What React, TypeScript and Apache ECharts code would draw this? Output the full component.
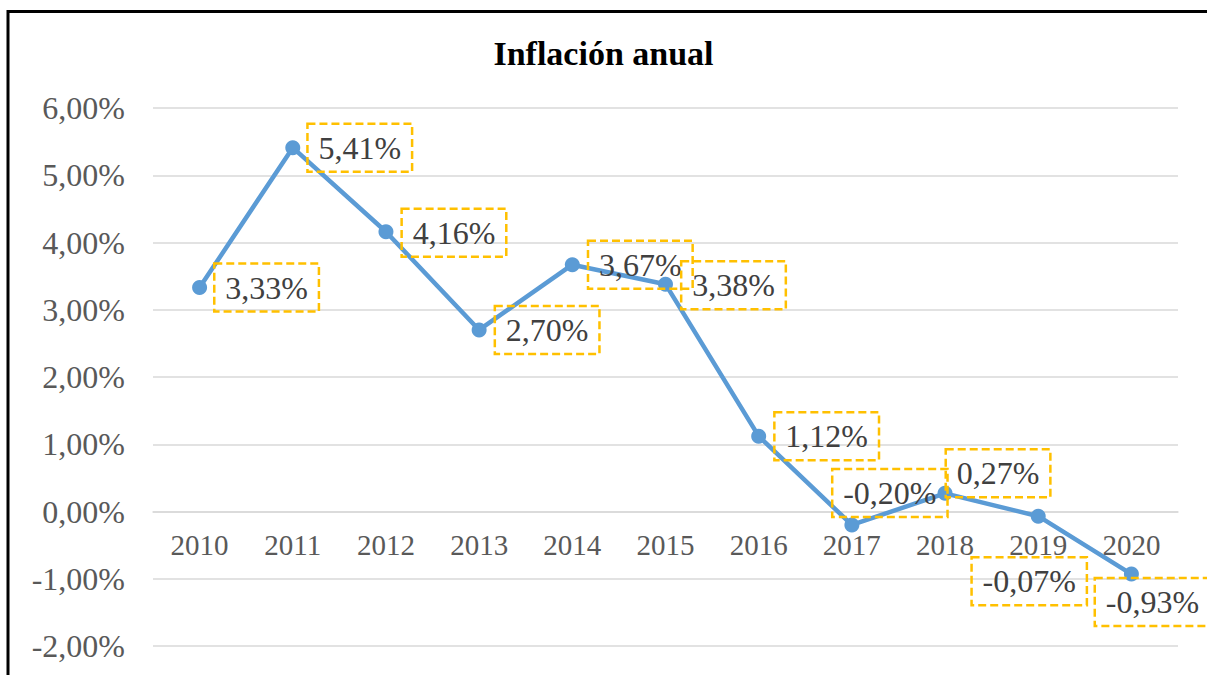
import React, { useEffect, useRef } from "react";
import * as echarts from "echarts";

const title = "Inflación anual";
const years = ["2010", "2011", "2012", "2013", "2014", "2015", "2016", "2017", "2018", "2019", "2020"];
const inflation = [3.33, 5.41, 4.16, 2.7, 3.67, 3.38, 1.12, -0.2, 0.27, -0.07, -0.93];
const labelOffsets: [number, number][] = [
  [67, 0], [67, 0], [68, 1], [68, 0], [68, 0], [68, 1], [68, 0],
  [38, -32], [53, -20], [-9, 65], [21, 28],
];
const yMin = -2;
const yMax = 6;
const yStep = 1;

const fmt = (v: number) => v.toFixed(2).replace(".", ",") + "%";

const W = 1207;
const H = 675;
const gridTop = 108;
const gridBottom = 29;

export default function App() {
  const ref = useRef<HTMLDivElement>(null);
  useEffect(() => {
    if (!ref.current) return;
    const chart = echarts.init(ref.current, null, { renderer: "svg" });
    const serif = "Liberation Serif";
    const gridH = H - gridTop - gridBottom;
    const zeroOffset = -((0 - yMin) / (yMax - yMin)) * gridH;
    chart.setOption({
      animation: false,
      backgroundColor: "#ffffff",
      title: {
        text: title,
        left: "center",
        top: 31,
        textStyle: { fontFamily: serif, fontWeight: "bold", fontSize: 34, color: "#000000" },
      },
      graphic: [
        {
          type: "rect",
          shape: { x: 8, y: 11.5, width: 1400, height: 900 },
          style: { fill: "none", stroke: "#000000", lineWidth: 3 },
          silent: true,
          z: 100,
        },
      ],
      grid: { left: 153, right: 29, top: gridTop, bottom: gridBottom, containLabel: false, outerBoundsMode: "none" },
      xAxis: {
        type: "category",
        data: years,
        boundaryGap: true,
        position: "bottom",
        offset: zeroOffset,
        axisLine: { show: true, onZero: false, lineStyle: { color: "#d9d9d9", width: 1.5 } },
        axisTick: { show: false },
        axisLabel: { fontFamily: serif, fontSize: 29, color: "#595959", margin: 19 },
        splitLine: { show: false },
      },
      yAxis: {
        type: "value",
        min: yMin,
        max: yMax,
        interval: yStep,
        axisLine: { show: false },
        axisTick: { show: false },
        axisLabel: {
          fontFamily: serif,
          fontSize: 32,
          color: "#595959",
          margin: 28,
          formatter: (v: number) => fmt(v),
        },
        splitLine: { show: true, lineStyle: { color: "#d9d9d9", width: 1.5 } },
      },
      series: [
        {
          type: "line",
          data: inflation.map((v, i) => ({
            value: v,
            label: { offset: labelOffsets[i] },
          })),
          lineStyle: { color: "#5B9BD5", width: 4.5 },
          itemStyle: { color: "#5B9BD5" },
          symbol: "circle",
          symbolSize: 15,
          label: {
            show: true,
            position: "inside",
            align: "center",
            verticalAlign: "middle",
            formatter: (p: any) => fmt(p.value),
            fontFamily: serif,
            fontSize: 32,
            lineHeight: 32,
            color: "#404040",
            borderColor: "#FFC000",
            borderWidth: 2.5,
            borderType: [8, 4],
            padding: [8, 11],
          },
        },
      ],
    });
    return () => chart.dispose();
  }, []);
  return (
    <div
      ref={ref}
      style={{ position: "fixed", left: 0, top: 0, width: W, height: H }}
    />
  );
}
